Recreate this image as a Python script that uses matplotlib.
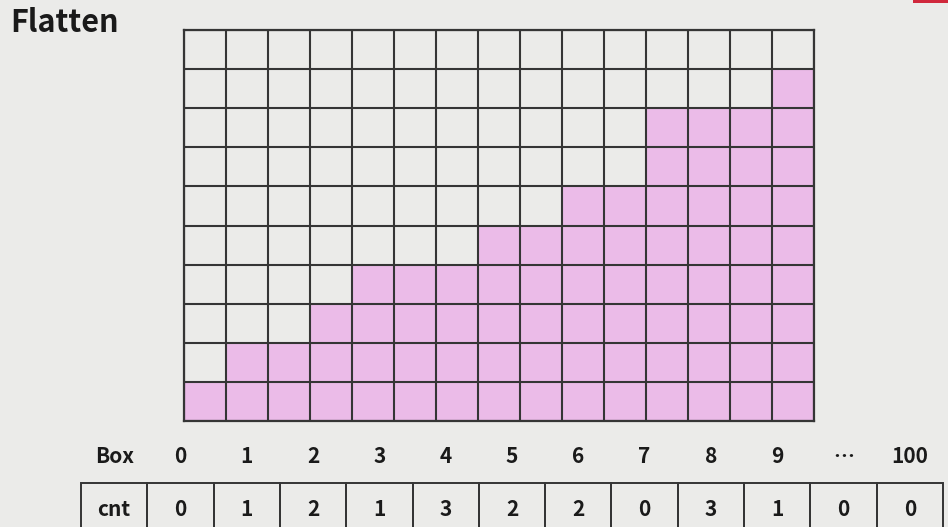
import matplotlib
matplotlib.use("Agg")
import matplotlib.pyplot as plt
from matplotlib.patches import Rectangle

plt.rcParams['font.family'] = ['Noto Sans CJK KR', 'DejaVu Sans']

# Data
heights = [1, 2, 2, 3, 4, 4, 4, 5, 5, 6, 6, 8, 8, 8, 9]
n_rows = 10
box_labels = ["0", "1", "2", "3", "4", "5", "6", "7", "8", "9", "\u22ef", "100"]
cnt_values = ["0", "1", "2", "1", "3", "2", "2", "0", "3", "1", "0", "0"]

BG = "#ebebe9"
PINK = "#ebbbe8"
LINE = "#353535"

W, H = 948, 527
fig = plt.figure(figsize=(W / 100, H / 100), dpi=100, facecolor=BG)

# Title
fig.text(10 / W, 1 - 23 / H, "Flatten", fontsize=22, fontweight=900,
         color="#1a1a1a", va="center", ha="left")

# red mark top right
fig.patches.append(Rectangle((913 / W, 1 - 2.5 / H), 35 / W, 2.5 / H,
                             transform=fig.transFigure, facecolor="#d0283c",
                             edgecolor="none"))

# Grid axes
ax = fig.add_axes([184 / W, 1 - 421 / H, 630 / W, 391 / H])
ax.set_facecolor(BG)
ax.bar(range(len(heights)), heights, width=1, align="edge", color=PINK,
       edgecolor="none", zorder=1)
ax.set_xlim(0, len(heights))
ax.set_ylim(0, n_rows)
ax.set_xticks(range(len(heights) + 1))
ax.set_yticks(range(n_rows + 1))
ax.grid(True, color=LINE, linewidth=1.5, zorder=2)
ax.set_axisbelow(False)
ax.tick_params(length=0, labelbottom=False, labelleft=False)
for s in ax.spines.values():
    s.set_color(LINE)
    s.set_linewidth(1.6)
    s.set_zorder(3)

# Table axes
tax = fig.add_axes([81 / W, (527 - 536) / H, 862 / W, 106 / H])
tax.set_xlim(0, len(box_labels) + 1)
tax.set_ylim(0, 2)
tax.axis("off")

tax.text(0.5, 1.5, "Box", ha="center", va="center", fontsize=15,
         fontweight="bold", color="#1a1a1a")
tax.text(0.5, 0.5, "cnt", ha="center", va="center", fontsize=15,
         fontweight="bold", color="#1a1a1a")
for i, (b, c) in enumerate(zip(box_labels, cnt_values)):
    tax.text(i + 1.5, 1.5, b, ha="center", va="center", fontsize=15,
             fontweight="bold", color="#1a1a1a")
    tax.text(i + 1.5, 0.5, c, ha="center", va="center", fontsize=15,
             fontweight="bold", color="#1a1a1a")
for i in range(len(box_labels) + 1):
    tax.add_patch(Rectangle((i, 0), 1, 1, facecolor="none", edgecolor=LINE,
                            linewidth=1.4, clip_on=False))

fig.savefig("out.png", dpi=100, facecolor=BG)
